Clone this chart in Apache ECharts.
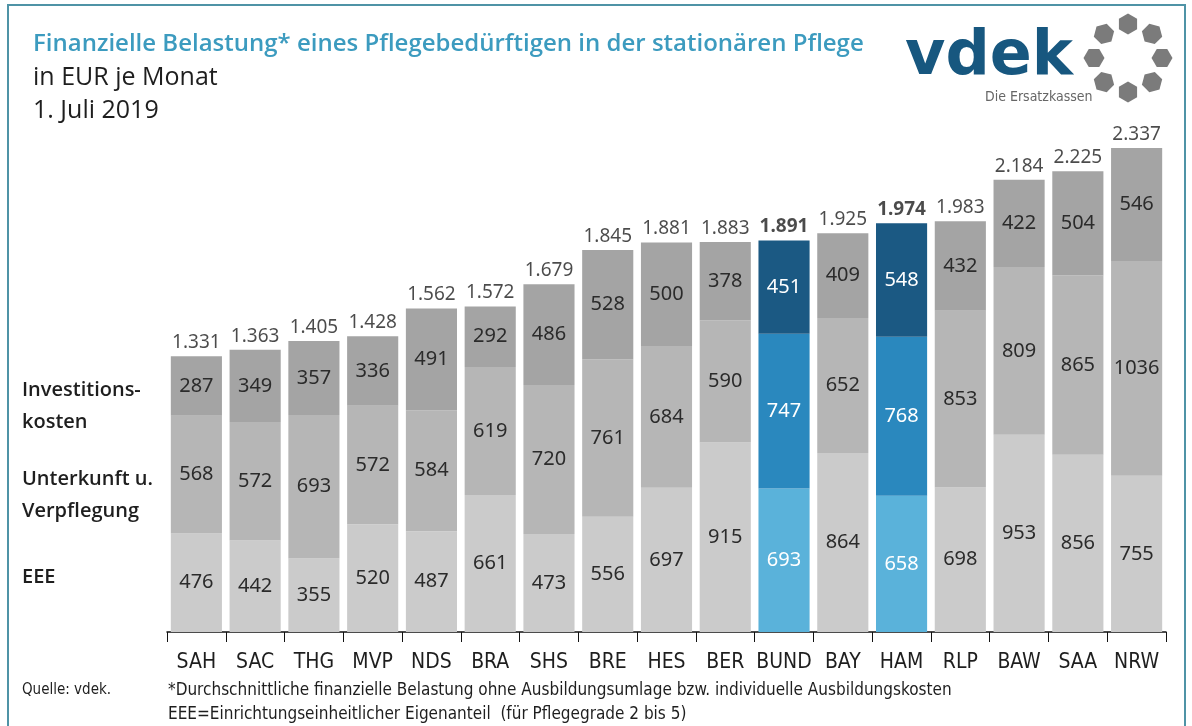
<!DOCTYPE html>
<html>
<head>
<meta charset="utf-8">
<script src="https://cdn.jsdelivr.net/npm/echarts@6/dist/echarts.min.js"></script>
<style>
  html, body { margin: 0; padding: 0; background: #fff; }
  #main { width: 1192px; height: 726px; }
</style>
</head>
<body>
<div id="main"></div>
<script>
var laender = ['SAH','SAC','THG','MVP','NDS','BRA','SHS','BRE','HES','BER','BUND','BAY','HAM','RLP','BAW','SAA','NRW'];
var eee = [476, 442, 355, 520, 487, 661, 473, 556, 697, 915, 693, 864, 658, 698, 953, 856, 755];
var unterkunft = [568, 572, 693, 572, 584, 619, 720, 761, 684, 590, 747, 652, 768, 853, 809, 865, 1036];
var investition = [287, 349, 357, 336, 491, 292, 486, 528, 500, 378, 451, 409, 548, 432, 422, 504, 546];
var hervorgehoben = ['BUND', 'HAM'];

var grau = ['#cbcbcb', '#b6b6b6', '#a4a4a4'];
var blau = ['#5ab2da', '#2a88be', '#1b5983'];
var schmal = '"DejaVu Sans Condensed", "DejaVu Sans"';

function fmt(v) {
    return String(v).replace(/\B(?=(\d{3})+(?!\d))/g, '.');
}

function segData(values, level) {
    return values.map(function (v, i) {
        if (hervorgehoben.indexOf(laender[i]) >= 0) {
            return { value: v, itemStyle: { color: blau[level] }, label: { color: '#fff' } };
        }
        return v;
    });
}

var summen = laender.map(function (l, i) {
    var s = eee[i] + unterkunft[i] + investition[i];
    var item = { value: s };
    if (hervorgehoben.indexOf(l) >= 0) {
        item.label = { fontWeight: 'bold' };
    }
    return item;
});

var zahlFont = { show: true, position: 'inside', fontSize: 20, color: '#2b2b2b', fontFamily: 'Noto Sans' };

function segSeries(name, values, level) {
    return {
        name: name,
        type: 'bar',
        stack: 'gesamt',
        barCategoryGap: '13%',
        itemStyle: { color: grau[level] },
        label: zahlFont,
        data: segData(values, level)
    };
}

// sechseckige Punkte des Logos
function hexagon(cx, cy, r, rot) {
    var pts = [];
    for (var k = 0; k < 6; k++) {
        var a = rot + k * Math.PI / 3;
        pts.push([cx + r * Math.cos(a), cy + r * Math.sin(a)]);
    }
    return pts;
}
var logoPunkte = [];
for (var k = 0; k < 8; k++) {
    var a = -Math.PI / 2 + k * Math.PI / 4;
    logoPunkte.push({
        type: 'polygon',
        shape: { points: hexagon(1128 + 34 * Math.cos(a), 58 + 34 * Math.sin(a), 10.5, a) },
        style: { fill: '#7b7b7b' }
    });
}

var textFarbe = '#1e1e1e';
var graphics = [
    { type: 'rect', shape: { x: 8, y: 5, width: 1177, height: 740 }, style: { fill: 'none', stroke: '#4f93a6', lineWidth: 2 } },
    { type: 'text', left: 33, top: 32, style: { text: 'Finanzielle Belastung* eines Pflegebedürftigen in der stationären Pflege', fill: '#3c9bbf', font: '600 24px "Open Sans"' } },
    { type: 'text', left: 33, top: 65, style: { text: 'in EUR je Monat', fill: textFarbe, font: '25px "Open Sans"' } },
    { type: 'text', left: 33, top: 98, style: { text: '1. Juli 2019', fill: textFarbe, font: '25px "Open Sans"' } },
    { type: 'text', left: 905, top: 27, style: { text: 'vdek', fill: '#17577f', font: 'bold 62px "DejaVu Sans"' } },
    { type: 'text', left: 985, top: 90, style: { text: 'Die Ersatzkassen', fill: '#666', font: '14px ' + schmal } },
    { type: 'text', left: 22, top: 374, style: { text: 'Investitions-\nkosten', fill: textFarbe, font: '600 20px "Open Sans"', lineHeight: 32 } },
    { type: 'text', left: 22, top: 463, style: { text: 'Unterkunft u.\nVerpflegung', fill: textFarbe, font: '600 20px "Open Sans"', lineHeight: 32 } },
    { type: 'text', left: 22, top: 567, style: { text: 'EEE', fill: textFarbe, font: '600 20px "Open Sans"' } },
    { type: 'text', left: 22, top: 683, style: { text: 'Quelle: vdek.', fill: textFarbe, font: '15px ' + schmal } },
    { type: 'text', left: 168, top: 682, style: { text: '*Durchschnittliche finanzielle Belastung ohne Ausbildungsumlage bzw. individuelle Ausbildungskosten', fill: textFarbe, font: '17px ' + schmal } },
    { type: 'text', left: 168, top: 706, style: { text: 'EEE=Einrichtungseinheitlicher Eigenanteil  (für Pflegegrade 2 bis 5)', fill: textFarbe, font: '17px ' + schmal } }
].concat(logoPunkte);

var myChart = echarts.init(document.getElementById('main'));
var option = {
    animation: false,
    backgroundColor: '#fff',
    grid: { left: 167, right: 26, top: 135, bottom: 94 },
    xAxis: {
        type: 'category',
        data: laender,
        axisLine: { lineStyle: { color: '#111', width: 1.5 } },
        axisTick: { show: true, length: 10, lineStyle: { color: '#111' } },
        axisLabel: { interval: 0, fontSize: 21, color: '#1e1e1e', margin: 20, fontFamily: schmal }
    },
    yAxis: {
        type: 'value',
        min: 0,
        max: 2400,
        show: false
    },
    series: [
        segSeries('EEE', eee, 0),
        segSeries('Unterkunft u. Verpflegung', unterkunft, 1),
        segSeries('Investitionskosten', investition, 2),
        {
            name: 'Summe',
            type: 'scatter',
            symbolSize: 0,
            silent: true,
            label: {
                show: true,
                position: 'top',
                distance: 4,
                fontSize: 19,
                color: '#1e1e1e',
                fontFamily: 'Noto Sans',
                formatter: function (p) { return fmt(p.value); }
            },
            data: summen
        }
    ],
    graphic: graphics
};
myChart.setOption(option);
</script>
</body>
</html>
